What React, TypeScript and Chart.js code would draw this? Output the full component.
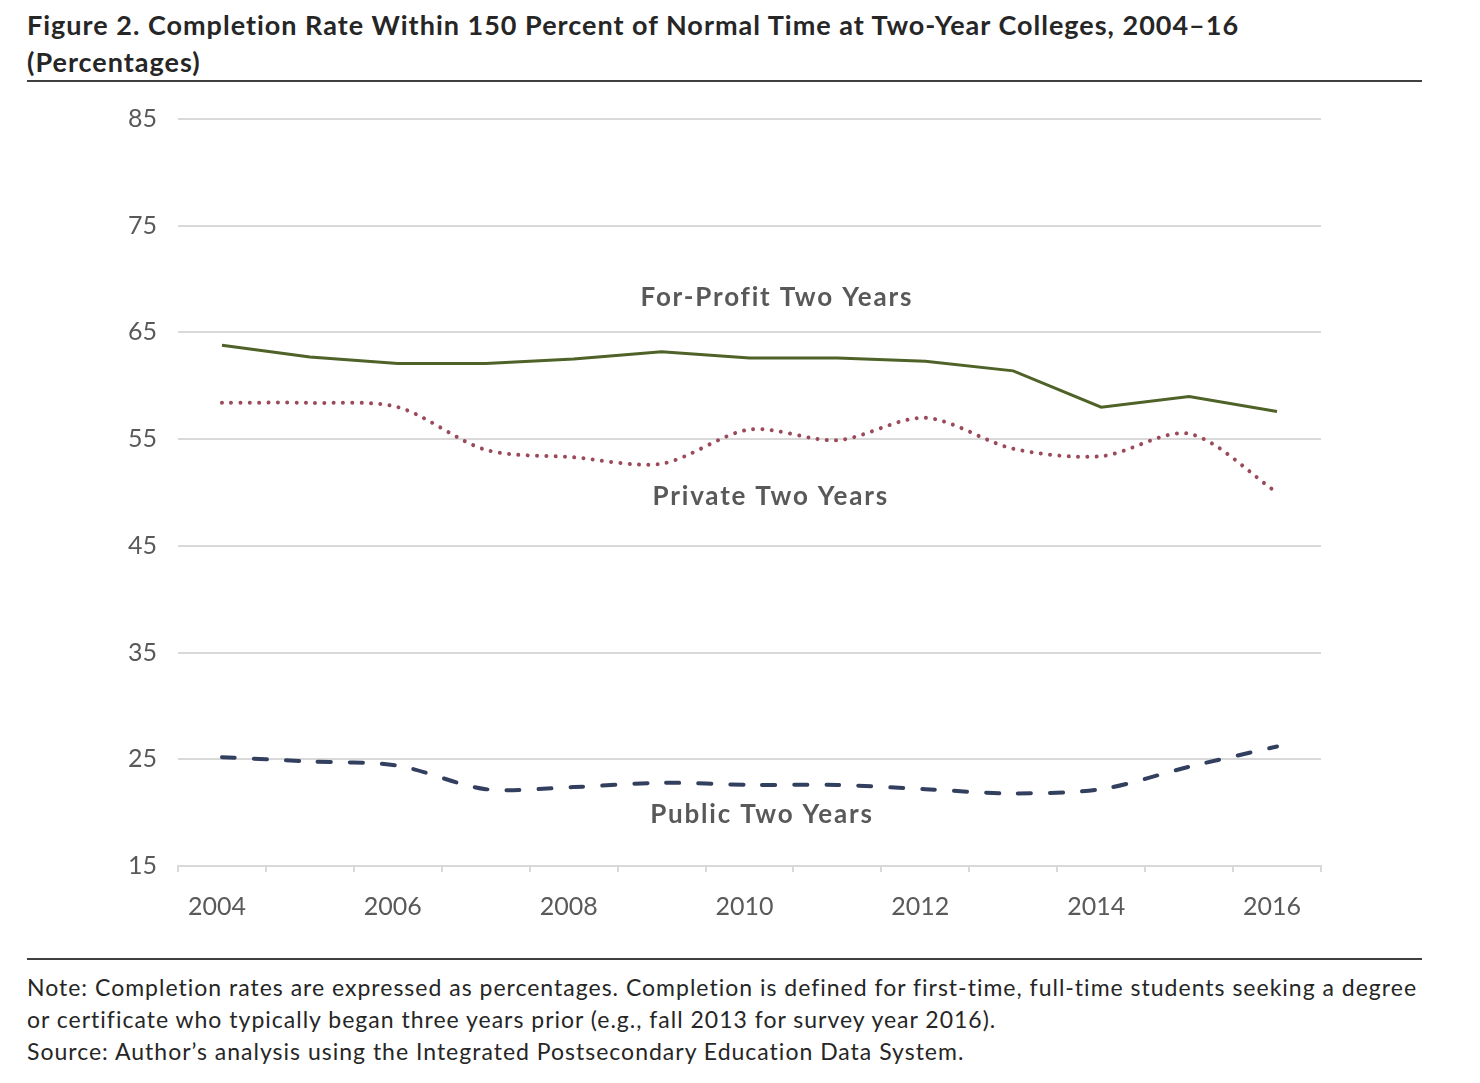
import React, { useEffect, useRef } from "react";
import { Chart, registerables } from "chart.js";

Chart.register(...registerables);

const years = ["2004","2005","2006","2007","2008","2009","2010","2011","2012","2013","2014","2015","2016"];
const forProfit = [63.8, 62.7, 62.1, 62.1, 62.5, 63.2, 62.6, 62.6, 62.3, 61.4, 58.0, 59.0, 57.6];
const privateTwo = [58.4, 58.4, 58.0, 54.0, 53.3, 52.7, 55.9, 54.9, 57.0, 54.1, 53.4, 55.5, 50.0];
const publicTwo = [25.2, 24.8, 24.4, 22.2, 22.4, 22.8, 22.6, 22.6, 22.2, 21.8, 22.2, 24.3, 26.2];
const yTicks = [15, 25, 35, 45, 55, 65, 75, 85];

const seriesLabels = ["For-Profit Two Years", "Private Two Years", "Public Two Years"];
const labelIndex = [6.3, 6.23, 6.13];
const labelValue = [68.3, 49.6, 19.8];

const titleLine1 = "Figure 2. Completion Rate Within 150 Percent of Normal Time at Two-Year Colleges, 2004\u201316";
const titleLine2 = "(Percentages)";
const noteLines = [
  "Note: Completion rates are expressed as percentages. Completion is defined for first-time, full-time students seeking a degree",
  "or certificate who typically began three years prior (e.g., fall 2013 for survey year 2016).",
  "Source: Author\u2019s analysis using the Integrated Postsecondary Education Data System.",
];

const FONT = "Lato, 'Open Sans', sans-serif";

export default function App() {
  const ref = useRef<HTMLCanvasElement | null>(null);

  useEffect(() => {
    if (!ref.current) return;
    const labelPlugin = {
      id: "seriesLabels",
      afterDatasetsDraw(chart: any) {
        const ctx = chart.ctx;
        const xs = chart.scales.x;
        const ys = chart.scales.y;
        ctx.save();
        ctx.fillStyle = "#595959";
        ctx.font = `bold 26px ${FONT}`;
        (ctx as any).letterSpacing = "1.8px";
        ctx.textAlign = "center";
        ctx.textBaseline = "middle";
        seriesLabels.forEach((t, i) => {
          ctx.fillText(t, xs.getPixelForValue(labelIndex[i]) + 1, ys.getPixelForValue(labelValue[i]));
        });
        ctx.restore();
      },
    };
    const chart = new Chart(ref.current, {
      type: "line",
      data: {
        labels: years,
        datasets: [
          {
            label: seriesLabels[0],
            data: forProfit,
            borderColor: "#4F6228",
            borderWidth: 3,
            pointRadius: 0,
            tension: 0,
          },
          {
            label: seriesLabels[1],
            data: privateTwo,
            borderColor: "#9B4A5A",
            borderWidth: 4,
            borderDash: [0.01, 9.3],
            borderCapStyle: "round",
            pointRadius: 0,
            tension: 0.3,
          },
          {
            label: seriesLabels[2],
            data: publicTwo,
            borderColor: "#333F5F",
            borderWidth: 4,
            borderDash: [13, 19],
            borderCapStyle: "round",
            pointRadius: 0,
            tension: 0.3,
          },
        ],
      },
      options: {
        animation: false,
        responsive: false,
        maintainAspectRatio: false,
        layout: { padding: { top: 0, right: 159, left: 0, bottom: 0 } },
        plugins: { legend: { display: false }, tooltip: { enabled: false } },
        scales: {
          x: {
            type: "category",
            offset: true,
            grid: {
              offset: true,
              drawOnChartArea: false,
              drawTicks: true,
              tickLength: 6,
              color: "#D9D9D9",
              lineWidth: 2,
            },
            border: { display: true, color: "#D9D9D9", width: 2 },
            ticks: {
              autoSkip: false,
              maxRotation: 0,
              padding: 20,
              labelOffset: -5,
              color: "#595959",
              font: { family: FONT, size: 25 },
              callback: (_v: any, i: number) => (i % 2 === 0 ? years[i] : ""),
            },
            afterFit: (s: any) => {
              s.height = 74;
            },
          },
          y: {
            type: "linear",
            min: 15,
            max: 85,
            afterBuildTicks: (s: any) => {
              s.ticks = yTicks.map((v) => ({ value: v }));
            },
            grid: { color: "#D9D9D9", lineWidth: 2, drawTicks: false },
            border: { display: false },
            ticks: {
              padding: 21,
              color: "#595959",
              font: { family: FONT, size: 25 },
            },
            afterFit: (s: any) => {
              s.width = 178;
            },
          },
        },
      },
      plugins: [labelPlugin],
    });
    return () => chart.destroy();
  }, []);

  return (
    <div style={{ position: "absolute", left: 0, top: 0, width: 1480, height: 1083, background: "#fff", fontFamily: FONT }}>
      <div style={{ position: "absolute", left: 27, top: 6, fontWeight: 700, fontSize: 27, letterSpacing: "1px", lineHeight: "37px", color: "#262626", whiteSpace: "nowrap" }}>
        <div>{titleLine1}</div>
        <div>{titleLine2}</div>
      </div>
      <div style={{ position: "absolute", left: 27, top: 80, width: 1395, height: 2, background: "#404040" }} />
      <canvas ref={ref} width={1480} height={857} style={{ position: "absolute", left: 0, top: 83, width: 1480, height: 857 }} />
      <div style={{ position: "absolute", left: 27, top: 958, width: 1395, height: 2, background: "#404040" }} />
      <div style={{ position: "absolute", left: 27, top: 971, fontSize: 23, letterSpacing: "1px", lineHeight: "32px", color: "#262626", whiteSpace: "nowrap" }}>
        {noteLines.map((l, i) => (
          <div key={i}>{l}</div>
        ))}
      </div>
    </div>
  );
}
